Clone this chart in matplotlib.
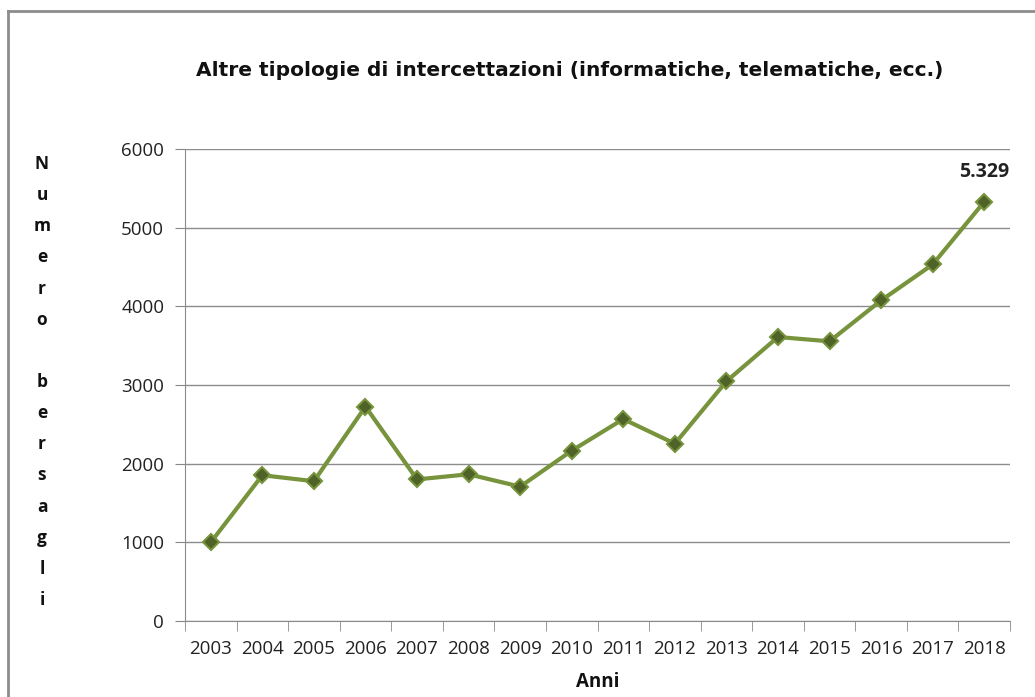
import matplotlib.pyplot as plt
import numpy as np
from matplotlib.lines import Line2D

# Dati
anni = ['2003', '2004', '2005', '2006', '2007', '2008', '2009', '2010',
        '2011', '2012', '2013', '2014', '2015', '2016', '2017', '2018']
bersagli = [1000, 1853, 1777, 2725, 1800, 1865, 1708, 2165,
            2567, 2254, 3047, 3610, 3555, 4075, 4532, 5329]
y_ticks = [0, 1000, 2000, 3000, 4000, 5000, 6000]

plt.rcParams['font.family'] = ['Open Sans', 'DejaVu Sans']

fig = plt.figure(figsize=(10.35, 6.97), dpi=100)
ax = fig.add_axes([185 / 1035, 76 / 697, 825 / 1035, 472 / 697])

x = np.arange(len(anni))
ax.plot(x, bersagli, color='#77933c', linewidth=3, marker='D', markersize=8.5,
        markerfacecolor='#4f6228', markeredgecolor='#77933c', markeredgewidth=1.5,
        zorder=3)

ax.set_xlim(-0.5, len(anni) - 0.5)
ax.set_ylim(0, 6000)
ax.set_yticks(y_ticks)
ax.set_xticks(x)
ax.set_xticklabels(anni)
ax.set_xticks(np.arange(-0.5, len(anni)), minor=True)
ax.tick_params(axis='x', which='major', length=0, pad=14, labelsize=13.5, labelcolor='#222222')
ax.tick_params(axis='x', which='minor', length=7, color='#888888', direction='out')
ax.tick_params(axis='y', length=7, color='#888888', labelsize=13.5, labelcolor='#222222', pad=8)

ax.grid(axis='y', color='#8c8c8c', linewidth=1)
ax.set_axisbelow(True)
for s in ['top', 'right']:
    ax.spines[s].set_visible(False)
ax.spines['left'].set_color('#8c8c8c')
ax.spines['bottom'].set_color('#8c8c8c')

# Etichetta ultimo valore
ax.annotate('5.329', (x[-1], bersagli[-1]), xytext=(0, 14), textcoords='offset points',
            ha='center', va='bottom', fontsize=14, fontweight='bold', color='#222222')

# Titolo e assi
fig.text(570 / 1035, 1 - 70 / 697,
         'Altre tipologie di intercettazioni (informatiche, telematiche, ecc.)',
         ha='center', va='center', fontsize=14.5, fontweight='bold',
         family=['Liberation Sans Narrow', 'DejaVu Sans'], color='#111111')
fig.text(598 / 1035, 1 - 682 / 697, 'Anni', ha='center', va='center',
         fontsize=13.5, fontweight='bold', color='#111111')
fig.text(42 / 1035, 1 - 382 / 697, '\n'.join('Numero bersagli'), ha='center', va='center',
         fontsize=12.5, fontweight='bold', linespacing=1.94, color='#111111')

# Cornice
fig.add_artist(Line2D([8 / 1035, 1], [1 - 11 / 697, 1 - 11 / 697], color='#8c8c8c', linewidth=2))
fig.add_artist(Line2D([8 / 1035, 8 / 1035], [0, 1 - 11 / 697], color='#8c8c8c', linewidth=2))

plt.savefig('out.png', dpi=100)
